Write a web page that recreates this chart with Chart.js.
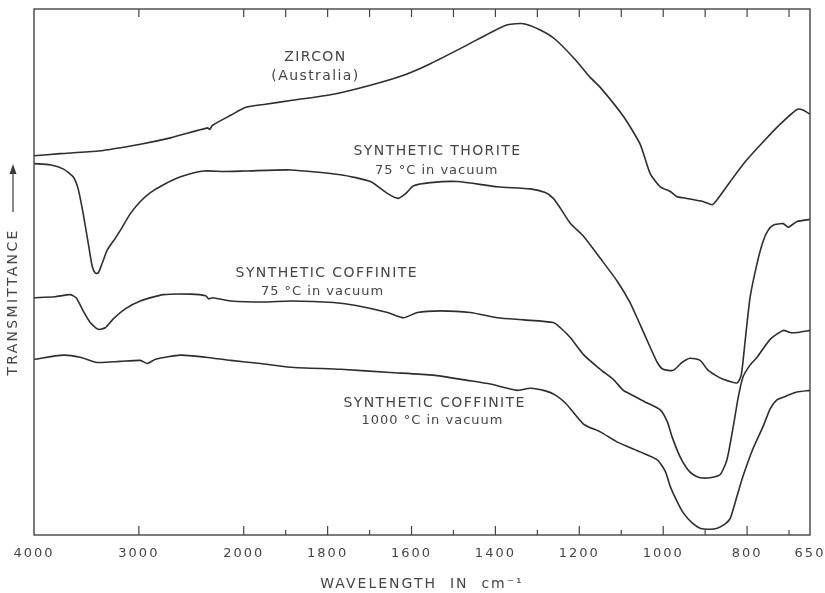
<!DOCTYPE html>
<html>
<head>
<meta charset="utf-8">
<script src="https://cdn.jsdelivr.net/npm/chart.js@4.4.1/dist/chart.umd.min.js"></script>
<style>
    html, body { margin: 0; padding: 0; background: #fff; overflow: hidden; }
    #irChart { display: block; }
</style>
</head>
<body>
<canvas id="irChart" width="825" height="593"></canvas>
<script>
// wavenumber ticks printed under the frame (cm-1)
var tickLabels = [4000, 3000, 2000, 1800, 1600, 1400, 1200, 1000, 800, 650];
// small unlabelled ticks on the frame
var minorTicks = [1900, 1700, 1500, 1300, 1100, 900, 700];

// Zircon (Australia) - wavenumber / transmittance (offset, arbitrary units)
var zirconWn = [4000, 3751, 3388, 2986, 2698, 2344, 2325, 2297, 2124, 1995, 1948, 1888, 1786, 1698, 1619, 1555, 1476, 1412, 1371, 1333, 1293, 1257, 1210, 1174, 1150, 1095, 1055, 1031, 1007, 983, 967, 952, 905, 883, 869, 840, 805, 762, 721, 681, 667, 650];
var zirconT = [72.1, 72.5, 73.0, 74.3, 75.5, 77.4, 77.1, 77.9, 79.8, 81.3, 81.9, 82.6, 83.8, 85.5, 87.4, 89.6, 92.8, 95.5, 97.0, 97.2, 96.0, 94.2, 90.4, 87.0, 85.1, 79.6, 74.3, 68.7, 66.2, 65.3, 64.3, 64.1, 63.4, 62.8, 64.0, 67.2, 70.9, 74.7, 78.1, 80.9, 80.8, 80.0];

// Synthetic thorite, 75 C in vacuum
var thoriteWn = [4000, 3847, 3722, 3627, 3579, 3531, 3483, 3445, 3416, 3388, 3349, 3301, 3225, 3177, 3081, 2986, 2890, 2765, 2603, 2383, 2191, 1995, 1888, 1769, 1698, 1657, 1631, 1614, 1595, 1555, 1490, 1395, 1317, 1281, 1262, 1245, 1221, 1190, 1150, 1110, 1079, 1055, 1031, 1014, 1000, 976, 955, 936, 912, 895, 876, 857, 824, 814, 805, 793, 776, 762, 750, 738, 714, 702, 681, 650];
var thoriteT = [70.6, 70.4, 69.6, 68.1, 65.8, 61.1, 55.5, 51.1, 49.8, 49.8, 51.7, 54.2, 56.4, 57.9, 61.1, 63.4, 65.1, 66.6, 68.1, 69.2, 69.1, 69.2, 69.4, 68.5, 67.2, 64.9, 64.0, 64.9, 66.4, 67.0, 67.2, 66.2, 65.8, 65.1, 64.0, 62.1, 59.2, 56.8, 52.6, 48.3, 44.2, 40.0, 35.7, 32.8, 31.5, 31.3, 32.8, 33.6, 33.2, 31.5, 30.4, 29.6, 28.9, 30.4, 36.6, 45.1, 51.7, 55.8, 57.9, 58.9, 59.2, 58.5, 59.6, 60.0];

// Synthetic coffinite, 75 C in vacuum
var coff75Wn = [4000, 3799, 3655, 3598, 3531, 3464, 3388, 3321, 3244, 3129, 2986, 2765, 2507, 2364, 2335, 2297, 2124, 1952, 1888, 1786, 1729, 1657, 1619, 1586, 1531, 1460, 1395, 1333, 1262, 1245, 1221, 1190, 1150, 1119, 1095, 1079, 1043, 1007, 990, 979, 960, 943, 929, 912, 888, 864, 848, 833, 821, 810, 793, 776, 745, 714, 698, 681, 650];
var coff75T = [45.1, 45.3, 45.7, 45.1, 42.6, 40.4, 39.1, 39.4, 41.1, 43.0, 44.5, 45.7, 45.8, 45.5, 44.9, 45.1, 44.5, 44.3, 44.5, 44.2, 43.6, 42.3, 41.3, 42.3, 42.6, 42.3, 41.3, 40.9, 40.4, 39.4, 37.5, 34.3, 31.5, 29.6, 27.5, 26.8, 25.3, 23.8, 21.5, 18.7, 14.9, 12.6, 11.5, 10.9, 10.9, 11.5, 14.3, 20.6, 26.2, 30.0, 32.3, 33.8, 37.2, 38.9, 38.5, 38.5, 38.9];

// Synthetic coffinite, 1000 C in vacuum
var coff1000Wn = [4000, 3722, 3560, 3397, 3177, 2986, 2919, 2842, 2603, 2364, 2124, 1960, 1888, 1769, 1650, 1548, 1467, 1412, 1348, 1317, 1281, 1257, 1233, 1190, 1150, 1110, 1055, 1014, 995, 983, 967, 952, 931, 912, 888, 871, 852, 840, 824, 810, 786, 762, 745, 729, 714, 681, 650];
var coff1000T = [33.4, 34.2, 33.8, 32.8, 33.0, 33.2, 32.6, 33.4, 34.2, 33.8, 33.2, 32.6, 31.9, 31.5, 30.9, 30.4, 29.4, 28.7, 27.5, 27.9, 27.4, 26.6, 25.1, 21.1, 19.6, 17.7, 15.8, 14.3, 12.1, 9.2, 6.4, 4.2, 2.3, 1.3, 1.1, 1.3, 2.1, 3.2, 7.4, 11.1, 16.4, 20.6, 24.0, 25.7, 26.2, 27.2, 27.5];

// text written next to the curves: [text, wavenumber, transmittance, font size]
var curveLabels = [
    ['ZIRCON', 1829, 90.9, 14],
    ['(Australia)', 1829, 87.2, 14],
    ['SYNTHETIC THORITE', 1538, 73.0, 14],
    ['75 °C in vacuum', 1540, 69.2, 13],
    ['SYNTHETIC COFFINITE', 1802, 49.8, 14],
    ['75 °C in vacuum', 1812, 46.2, 13],
    ['SYNTHETIC COFFINITE', 1545, 25.1, 14],
    ['1000 °C in vacuum', 1550, 21.7, 13]
];

// the chart paper is compressed 4x above 2000 cm-1
var BREAK = 2000;
var COMPRESS = 4;
function warp(v) { return v > BREAK ? BREAK + (v - BREAK) / COMPRESS : v; }
function unwarp(w) { return w > BREAK ? BREAK + (w - BREAK) * COMPRESS : w; }

class WavenumberScale extends Chart.LinearScale {
    getPixelForValue(value) {
        var hi = warp(this.max), lo = warp(this.min);
        return this.getPixelForDecimal((hi - warp(value)) / (hi - lo));
    }
    getValueForPixel(pixel) {
        var hi = warp(this.max), lo = warp(this.min);
        return unwarp(hi - this.getDecimalForPixel(pixel) * (hi - lo));
    }
}
WavenumberScale.id = 'wavenumber';
WavenumberScale.defaults = Chart.LinearScale.defaults;
Chart.register(WavenumberScale);

function points(wn, t) {
    return wn.map(function (w, i) { return { x: w, y: t[i] }; });
}

var FONT = 'DejaVu Sans';
var INK = '#2e2e2e';
var TEXT = '#454545';

// letter spacing for the axis text, switched off before the curves
var spacing = {
    id: 'spacing',
    beforeDraw: function (chart) { chart.ctx.letterSpacing = '2px'; },
    beforeDatasetsDraw: function (chart) { chart.ctx.letterSpacing = '0px'; }
};

// frame with the inward tick marks, top and bottom
var frameTicks = {
    id: 'frameTicks',
    afterDatasetsDraw: function (chart) {
        var ctx = chart.ctx, a = chart.chartArea, sx = chart.scales.x;
        var major = tickLabels.slice(1, -1);
        var all = major.concat(minorTicks);
        ctx.save();
        ctx.strokeStyle = '#444';
        ctx.lineWidth = 1.4;
        ctx.strokeRect(a.left, a.top, a.right - a.left, a.bottom - a.top);
        ctx.lineWidth = 1.2;
        for (var i = 0; i < all.length; i++) {
            var px = sx.getPixelForValue(all[i]);
            var len = i < major.length ? 9 : 5;
            ctx.beginPath();
            ctx.moveTo(px, a.bottom);
            ctx.lineTo(px, a.bottom - len);
            ctx.stroke();
            ctx.beginPath();
            ctx.moveTo(px, a.top);
            ctx.lineTo(px, a.top + 8);
            ctx.stroke();
        }
        ctx.restore();
    }
};

// curve names and the rotated y title with its arrow
var textLayer = {
    id: 'textLayer',
    afterDatasetsDraw: function (chart) {
        var ctx = chart.ctx, sx = chart.scales.x, sy = chart.scales.y;
        ctx.save();
        ctx.fillStyle = TEXT;
        ctx.textAlign = 'center';
        ctx.textBaseline = 'middle';
        curveLabels.forEach(function (l) {
            ctx.font = l[3] + 'px "' + FONT + '"';
            ctx.letterSpacing = l[3] >= 14 ? '1.4px' : '1px';
            ctx.fillText(l[0], sx.getPixelForValue(l[1]), sy.getPixelForValue(l[2]));
        });
        ctx.restore();

        // TRANSMITTANCE -->
        var a = chart.chartArea;
        ctx.save();
        ctx.translate(13, a.top + 293);
        ctx.rotate(-Math.PI / 2);
        ctx.fillStyle = TEXT;
        ctx.font = '14px "' + FONT + '"';
        ctx.letterSpacing = '2.3px';
        ctx.textAlign = 'center';
        ctx.textBaseline = 'middle';
        ctx.fillText('TRANSMITTANCE', 0, 0);
        ctx.letterSpacing = '0px';
        ctx.strokeStyle = '#3a3a3a';
        ctx.lineWidth = 1.2;
        ctx.beginPath();
        ctx.moveTo(90, 0);
        ctx.lineTo(134, 0);
        ctx.stroke();
        ctx.fillStyle = '#3a3a3a';
        ctx.beginPath();
        ctx.moveTo(138, 0);
        ctx.lineTo(128, -3.5);
        ctx.lineTo(128, 3.5);
        ctx.closePath();
        ctx.fill();
        ctx.restore();
    }
};

var lineStyle = {
    borderColor: INK,
    borderWidth: 1.6,
    pointRadius: 0,
    tension: 0.2,
    fill: false
};

var irChart = new Chart(document.getElementById('irChart'), {
    type: 'line',
    data: {
        datasets: [
            Object.assign({ label: 'Zircon (Australia)', data: points(zirconWn, zirconT) }, lineStyle),
            Object.assign({ label: 'Synthetic thorite 75 °C in vacuum', data: points(thoriteWn, thoriteT) }, lineStyle),
            Object.assign({ label: 'Synthetic coffinite 75 °C in vacuum', data: points(coff75Wn, coff75T) }, lineStyle),
            Object.assign({ label: 'Synthetic coffinite 1000 °C in vacuum', data: points(coff1000Wn, coff1000T) }, lineStyle)
        ]
    },
    options: {
        responsive: false,
        animation: false,
        devicePixelRatio: 1,
        layout: { padding: { left: 34, right: 15, top: 9, bottom: 0 } },
        plugins: {
            legend: { display: false },
            tooltip: { enabled: false }
        },
        scales: {
            x: {
                type: 'wavenumber',
                min: 650,
                max: 4000,
                // tick marks are drawn inside the frame by the plugin, the
                // hidden tick length only pushes the labels down
                grid: { display: false, drawTicks: true, tickLength: 11 },
                border: { display: false },
                afterBuildTicks: function (scale) {
                    scale.ticks = tickLabels.map(function (v) { return { value: v }; });
                },
                ticks: {
                    autoSkip: false,
                    maxRotation: 0,
                    padding: 0,
                    color: TEXT,
                    font: { family: FONT, size: 13 },
                    callback: function (v) { return String(v); }
                },
                title: {
                    display: true,
                    text: 'WAVELENGTH  IN  cm⁻¹',
                    color: TEXT,
                    font: { family: FONT, size: 14 },
                    padding: { top: 14.6, bottom: 0 }
                }
            },
            y: {
                display: false,
                min: 0,
                max: 100
            }
        }
    },
    plugins: [spacing, frameTicks, textLayer]
});
</script>
</body>
</html>
